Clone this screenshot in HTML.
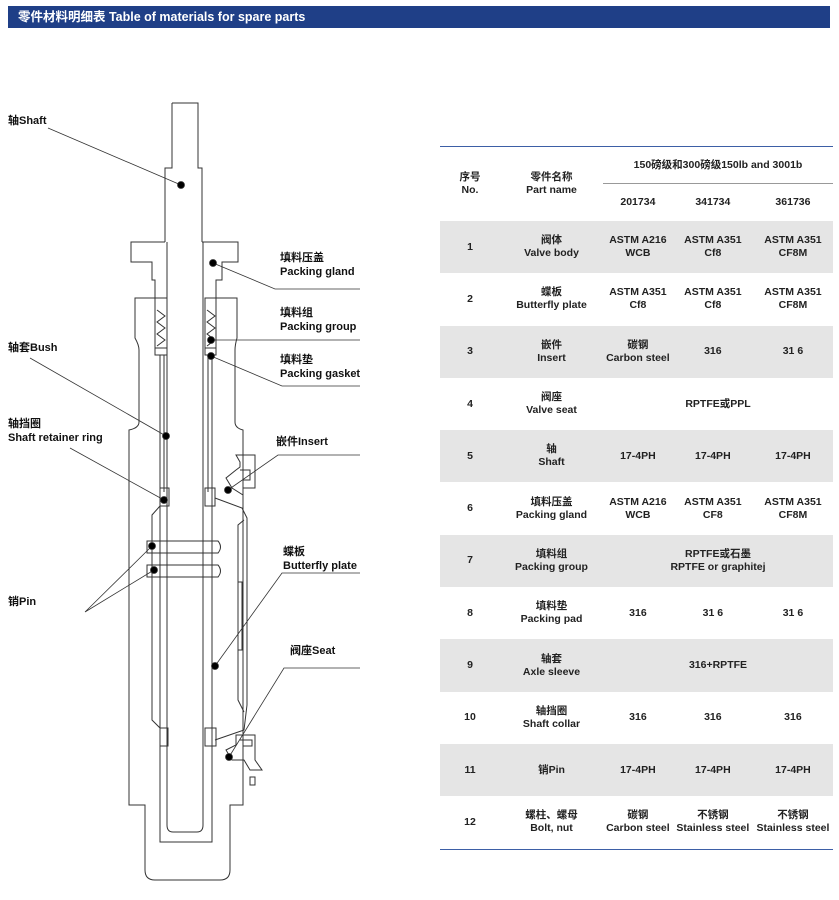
<!DOCTYPE html>
<html><head><meta charset="utf-8"><style>
body{margin:0;width:839px;height:900px;background:#fff;position:relative;font-family:"Liberation Sans","Noto Sans CJK SC",sans-serif;overflow:hidden}
.hdr{position:absolute;left:8px;top:6px;width:822px;height:22px;background:#1f3f87;color:#fff;font-weight:bold;font-size:12.5px;line-height:22px;padding-left:10px;box-sizing:border-box}
.lbl{position:absolute;font-size:11px;font-weight:bold;line-height:14px;color:#111}
table{position:absolute;left:440px;top:146px;width:393px;border-collapse:collapse;border-top:1.5px solid #3d5fa6;border-bottom:1.5px solid #3d5fa6;font-size:10.5px;font-weight:bold;color:#222}
td{text-align:center;padding:0;line-height:13px}
tr.r td{height:52.3px}
tr.g td{background:#e5e5e5}
</style></head><body>
<div class="hdr">零件材料明细表 Table of materials for spare parts</div>
<svg width="839" height="900" style="position:absolute;left:0;top:0" fill="none" stroke="#333" stroke-width="1">
<!-- shaft upper -->
<path d="M172 103H198V168H202V242M172 103V168H165V242"/>
<!-- gland -->
<path d="M165 242H131V262H152V280H155V298M202 242H238V262H222V280H216V298"/>
<!-- body -->
<path d="M155 298H135V338Q139 345 139 350V422Q139 428 129 430V805H145V870Q145 880 155 880H220Q230 880 230 870V805H243V430Q235 428 235 422V350Q235 345 237 338V298H216"/>
<!-- packing -->
<rect x="155" y="298" width="12" height="57"/><rect x="205" y="298" width="11" height="57"/>
<path d="M157 310l8 6-8 6 8 6-8 6 8 6-8 6M207 310l8 6-8 6 8 6-8 6 8 6-8 6"/>
<rect x="155" y="348" width="12" height="7"/><rect x="205" y="348" width="11" height="7"/>
<!-- bush lines -->
<path d="M160 355V492M164 355V492M208 355V492M212 355V492"/>
<!-- shaft continuing -->
<path d="M167 242V825Q167 832 173 832H197Q203 832 203 825V242"/>
<path d="M160 492V842H212V492"/>
<!-- retainer -->
<rect x="160" y="488" width="9" height="18"/><rect x="205" y="488" width="10" height="18"/>
<rect x="160" y="728" width="8" height="18"/><rect x="205" y="728" width="11" height="18"/>
<!-- plate -->
<path d="M160 506L152 515V720L160 728M215 498L242 508L247 518V705L244 730L215 740"/>
<path d="M244 520L238 525V700L244 712"/>
<path d="M238 582H242V650H238"/>
<!-- pins -->
<path d="M147 541H218Q223 547 218 553H147ZM147 565H218Q223 571 218 577H147Z"/>
<!-- insert -->
<path d="M236 455H255V488H243V495L232 488L226 478L236 470L240 467V462Z"/>
<path d="M240 470H250V480H243"/>
<!-- seat -->
<path d="M236 735H255V760L262 770H250L244 760L232 760L226 750L236 745Z"/>
<path d="M240 740H252V746H243"/>
<rect x="250" y="777" width="5" height="8"/>
</svg>
<svg width="839" height="900" style="position:absolute;left:0;top:0" fill="#000" stroke="#333" stroke-width="0.8">
<g fill="none">
<path d="M48 128L181 185"/>
<path d="M213 263L275 289H360"/>
<path d="M211 340H360"/>
<path d="M211 356L282 386H360"/>
<path d="M228 490L278 455H360"/>
<path d="M215 666L282 573H360"/>
<path d="M229 757L284 668H360"/>
<path d="M30 358L166 436"/>
<path d="M70 448L164 500"/>
<path d="M85 612L152 546M85 612L154 570"/>
</g>
<circle cx="181" cy="185" r="3.5"/><circle cx="213" cy="263" r="3.5"/><circle cx="211" cy="340" r="3.5"/><circle cx="211" cy="356" r="3.5"/>
<circle cx="228" cy="490" r="3.5"/><circle cx="215" cy="666" r="3.5"/><circle cx="229" cy="757" r="3.5"/><circle cx="166" cy="436" r="3.5"/>
<circle cx="164" cy="500" r="3.5"/><circle cx="152" cy="546" r="3.5"/><circle cx="154" cy="570" r="3.5"/>
</svg>
<div class="lbl" style="left:8px;top:114px">轴Shaft</div>
<div class="lbl" style="left:280px;top:251px">填料压盖<br>Packing gland</div>
<div class="lbl" style="left:280px;top:306px">填料组<br>Packing group</div>
<div class="lbl" style="left:280px;top:353px">填料垫<br>Packing gasket</div>
<div class="lbl" style="left:276px;top:435px">嵌件Insert</div>
<div class="lbl" style="left:283px;top:545px">蝶板<br>Butterfly plate</div>
<div class="lbl" style="left:290px;top:644px">阀座Seat</div>
<div class="lbl" style="left:8px;top:341px">轴套Bush</div>
<div class="lbl" style="left:8px;top:417px">轴挡圈<br>Shaft retainer ring</div>
<div class="lbl" style="left:8px;top:595px">销Pin</div>
<table>
<tr><td rowspan="2" style="width:60px">序号<br>No.</td><td rowspan="2" style="width:103px">零件名称<br>Part name</td><td colspan="3" style="height:36px;border-bottom:1px solid #999">150磅级和300磅级150lb and 3001b</td></tr>
<tr><td style="height:37px">201734</td><td>341734</td><td>361736</td></tr>
<tr class="r g"><td>1</td><td>阀体<br>Valve body</td><td>ASTM A216<br>WCB</td><td>ASTM A351<br>Cf8</td><td>ASTM A351<br>CF8M</td></tr>
<tr class="r"><td>2</td><td>蝶板<br>Butterfly plate</td><td>ASTM A351<br>Cf8</td><td>ASTM A351<br>Cf8</td><td>ASTM A351<br>CF8M</td></tr>
<tr class="r g"><td>3</td><td>嵌件<br>Insert</td><td>碳钢<br>Carbon steel</td><td>316</td><td>31 6</td></tr>
<tr class="r"><td>4</td><td>阀座<br>Valve seat</td><td colspan="3">RPTFE或PPL</td></tr>
<tr class="r g"><td>5</td><td>轴<br>Shaft</td><td>17-4PH</td><td>17-4PH</td><td>17-4PH</td></tr>
<tr class="r"><td>6</td><td>填料压盖<br>Packing gland</td><td>ASTM A216<br>WCB</td><td>ASTM A351<br>CF8</td><td>ASTM A351<br>CF8M</td></tr>
<tr class="r g"><td>7</td><td>填料组<br>Packing group</td><td colspan="3">RPTFE或石墨<br>RPTFE or graphitej</td></tr>
<tr class="r"><td>8</td><td>填料垫<br>Packing pad</td><td>316</td><td>31 6</td><td>31 6</td></tr>
<tr class="r g"><td>9</td><td>轴套<br>Axle sleeve</td><td colspan="3">316+RPTFE</td></tr>
<tr class="r"><td>10</td><td>轴挡圈<br>Shaft collar</td><td>316</td><td>316</td><td>316</td></tr>
<tr class="r g"><td>11</td><td>销Pin</td><td>17-4PH</td><td>17-4PH</td><td>17-4PH</td></tr>
<tr class="r"><td>12</td><td>螺柱、螺母<br>Bolt, nut</td><td>碳钢<br>Carbon steel</td><td>不锈钢<br>Stainless steel</td><td>不锈钢<br>Stainless steel</td></tr>
</table>
</body></html>
